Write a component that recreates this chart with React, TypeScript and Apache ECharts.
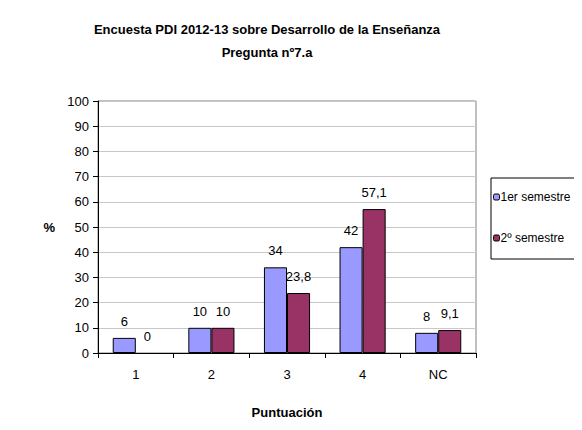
import React, { useEffect, useRef } from "react";
import * as echarts from "echarts";

const categories = ["1", "2", "3", "4", "NC"];
const serie1Name = "1er semestre";
const serie2Name = "2º semestre";
const serie1 = [6, 10, 34, 42, 8];
const serie2 = [0, 10, 23.8, 57.1, 9.1];
const titleLines = ["Encuesta PDI 2012-13 sobre Desarrollo de la Enseñanza", "Pregunta nº7.a"];
const yName = "%";
const xName = "Puntuación";

const FONT = "Liberation Sans, Arial, sans-serif";

export default function App() {
  const ref = useRef<HTMLDivElement>(null);
  useEffect(() => {
    if (!ref.current) return;
    const chart = echarts.init(ref.current, null, { renderer: "svg" });
    const label = {
      show: true,
      position: "top",
      distance: 10,
      color: "#000",
      fontSize: 13,
      fontFamily: FONT,
      formatter: (p: any) => String(p.value).replace(".", ","),
    };
    const toData = (arr: number[]) =>
      arr.map((v) => (v === 0 ? { value: v, itemStyle: { borderWidth: 0 } } : v));
    chart.setOption({
      animation: false,
      backgroundColor: "#fff",
      textStyle: { fontFamily: FONT },
      graphic: [
        {
          type: "rect",
          shape: { x: 5, y: 7, width: 700, height: 600 },
          style: { fill: "none", stroke: "#000", lineWidth: 2 },
          silent: true,
          z: 100,
        },
        {
          type: "text",
          x: 267,
          y: 18,
          style: {
            text: titleLines.join("\n"),
            textAlign: "center",
            fontSize: 13,
            fontWeight: "bold",
            fontFamily: FONT,
            lineHeight: 23,
            fill: "#000",
          },
        },
        {
          type: "rect",
          shape: { x: 491, y: 178, width: 85, height: 81 },
          style: { fill: "#fff", stroke: "#000", lineWidth: 1 },
          z: 0,
        },
      ],
      legend: {
        orient: "vertical",
        left: 493,
        top: 191,
        padding: 0,
        itemWidth: 6,
        itemHeight: 6,
        itemGap: 29,
        z: 10,
        textStyle: { fontSize: 12, fontFamily: FONT, color: "#000", padding: [0, 0, 0, -4] },
        data: [
          { name: serie1Name, itemStyle: { borderColor: "#000", borderWidth: 1 } },
          { name: serie2Name, itemStyle: { borderColor: "#000", borderWidth: 1 } },
        ],
      },
      grid: {
        left: 98,
        right: 106,
        top: 101,
        bottom: 77,
        show: true,
        borderColor: "#808080",
        borderWidth: 1,
      },
      xAxis: {
        type: "category",
        data: categories,
        name: xName,
        nameLocation: "middle",
        nameGap: 53,
        nameTextStyle: { fontSize: 13, fontWeight: "bold", color: "#000", fontFamily: FONT },
        axisLine: { lineStyle: { color: "#000", width: 1 } },
        axisTick: { show: true, length: 5, lineStyle: { color: "#000" } },
        axisLabel: { color: "#000", fontSize: 13, margin: 15, fontFamily: FONT },
      },
      yAxis: {
        type: "value",
        min: 0,
        max: 100,
        interval: 10,
        name: yName,
        nameLocation: "middle",
        nameRotate: 0,
        nameGap: 43,
        nameTextStyle: { fontSize: 13, fontWeight: "bold", color: "#000", fontFamily: FONT },
        axisLine: { show: true, lineStyle: { color: "#000", width: 1 } },
        axisTick: { show: true, length: 5, lineStyle: { color: "#000" } },
        axisLabel: { color: "#000", fontSize: 13, margin: 9, fontFamily: FONT },
        splitLine: { show: true, lineStyle: { color: "#C8C8C8", width: 1 } },
      },
      series: [
        {
          name: serie1Name,
          type: "bar",
          data: toData(serie1),
          barGap: "0%",
          barCategoryGap: "39%",
          itemStyle: { color: "#9999FF", borderColor: "#000", borderWidth: 1 },
          label,
        },
        {
          name: serie2Name,
          type: "bar",
          data: toData(serie2),
          itemStyle: { color: "#993366", borderColor: "#000", borderWidth: 1 },
          label,
        },
      ],
    });
    return () => chart.dispose();
  }, []);
  return <div ref={ref} style={{ width: 582, height: 430, margin: -8 }} />;
}
